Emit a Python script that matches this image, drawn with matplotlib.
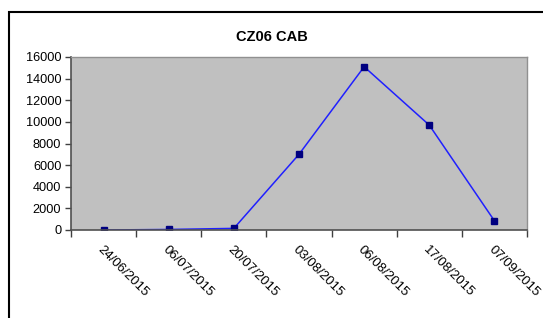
import matplotlib
matplotlib.use("Agg")
import matplotlib.pyplot as plt
from matplotlib.patches import Rectangle
from matplotlib.ticker import FixedLocator

# data
dates = ["24/06/2015", "06/07/2015", "20/07/2015", "03/08/2015",
         "06/08/2015", "17/08/2015", "07/09/2015"]
counts = [0, 50, 150, 7000, 15100, 9700, 850]
y_ticks = [0, 2000, 4000, 6000, 8000, 10000, 12000, 14000, 16000]

plt.rcParams["font.family"] = ["Liberation Sans", "DejaVu Sans"]

fig = plt.figure(figsize=(5.43, 3.18), dpi=100)
fig.patch.set_facecolor("white")

# outer chart frame (runs off the right / bottom edges)
fig.patches.append(Rectangle((9 / 543, -0.1), 1.2, 1 - 12 / 318 + 0.1,
                             transform=fig.transFigure, fill=False,
                             edgecolor="black", linewidth=1.5))

ax = fig.add_axes([71 / 543, 1 - 230 / 318, 456 / 543, 173 / 318])
ax.set_facecolor("#c0c0c0")

x = list(range(len(dates)))
ax.plot(x, counts, color="#2020ff", linewidth=1.1, marker="s",
        markersize=5, markerfacecolor="#000080", markeredgecolor="#000080")

ax.set_xlim(-0.5, len(dates) - 0.5)
ax.set_ylim(0, 16000)
ax.set_yticks(y_ticks)
ax.set_yticklabels([str(v) for v in y_ticks], fontsize=9.2)

ax.set_xticks(x)
ax.set_xticklabels(dates, fontsize=9.5, rotation=-45, ha="left", va="top",
                   rotation_mode="anchor")
ax.xaxis.set_minor_locator(FixedLocator([i - 0.5 for i in range(len(dates) + 1)]))
ax.tick_params(axis="x", which="major", length=0, pad=10)
ax.tick_params(axis="x", which="minor", length=5, direction="out",
               color="#404040", width=1)
ax.tick_params(axis="y", length=4, direction="out", color="#404040",
               width=1, pad=3)

for side in ["top", "right"]:
    ax.spines[side].set_color("#909090")
    ax.spines[side].set_linewidth(1)
for side in ["left", "bottom"]:
    ax.spines[side].set_color("#505050")
    ax.spines[side].set_linewidth(1.2)

fig.text(272 / 543, 1 - 37 / 318, "CZ06 CAB", ha="center", va="center",
         fontsize=10.5, fontweight="bold")

fig.savefig("out.png", dpi=100)
